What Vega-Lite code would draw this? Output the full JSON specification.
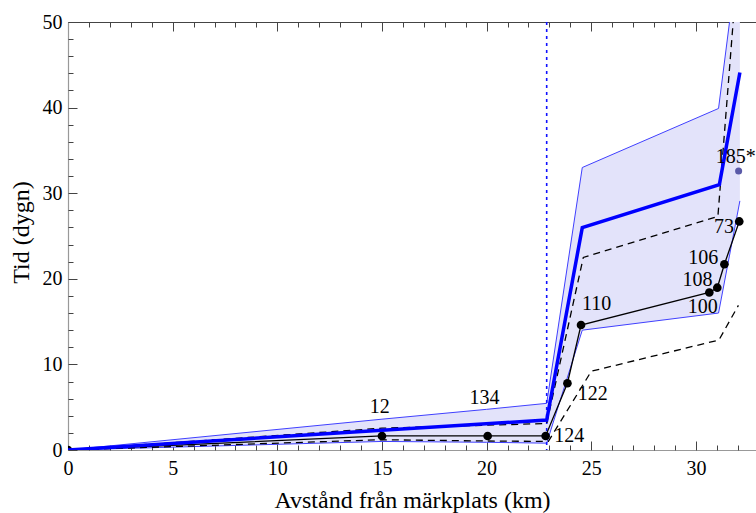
{
  "$schema": "https://vega.github.io/schema/vega-lite/v6.json",
  "width": 688,
  "height": 428,
  "autosize": {"type": "none"},
  "padding": {"left": 68, "top": 22, "right": 0, "bottom": 63},
  "background": "white",
  "config": {"view": {"stroke": null}, "font": "Liberation Serif"},
  "datasets": {
    "band": [
      {"x": 0, "lo": 0, "hi": 0},
      {"x": 15, "lo": 1.0, "hi": 3.6},
      {"x": 20, "lo": 0.9, "hi": 4.75},
      {"x": 22.87, "lo": 0.8, "hi": 5.45},
      {"x": 24.57, "lo": 14.0, "hi": 33.0},
      {"x": 31.08, "lo": 16.0, "hi": 39.9},
      {"x": 32.1, "lo": 29.1, "hi": 59.5}
    ],
    "lines": [
      {"series": "mean", "x": 0, "y": 0},
      {"series": "mean", "x": 22.87, "y": 3.5},
      {"series": "mean", "x": 24.57, "y": 25.97},
      {"series": "mean", "x": 31.12, "y": 31.0},
      {"series": "mean", "x": 32.1, "y": 44.1},
      {"series": "dashHi", "x": 0, "y": 0},
      {"series": "dashHi", "x": 15, "y": 2.55},
      {"series": "dashHi", "x": 20, "y": 2.9},
      {"series": "dashHi", "x": 22.87, "y": 3.1},
      {"series": "dashHi", "x": 24.62, "y": 22.5},
      {"series": "dashHi", "x": 31.05, "y": 27.3},
      {"series": "dashHi", "x": 32.1, "y": 60},
      {"series": "dashLo", "x": 0, "y": 0},
      {"series": "dashLo", "x": 15, "y": 1.2},
      {"series": "dashLo", "x": 20, "y": 1.05},
      {"series": "dashLo", "x": 22.95, "y": 1.0},
      {"series": "dashLo", "x": 25.0, "y": 9.2},
      {"series": "dashLo", "x": 31.1, "y": 12.85},
      {"series": "dashLo", "x": 32.03, "y": 16.9}
    ],
    "obs": [
      {"x": 0, "y": 0},
      {"x": 15, "y": 1.64},
      {"x": 20.05, "y": 1.64},
      {"x": 22.82, "y": 1.64},
      {"x": 23.86, "y": 7.8},
      {"x": 24.51, "y": 14.6},
      {"x": 30.64, "y": 18.4},
      {"x": 31.02, "y": 18.96},
      {"x": 31.36, "y": 21.7},
      {"x": 32.07, "y": 26.7}
    ],
    "extra": [{"x": 32.04, "y": 32.6}],
    "vline": [{"x": 22.87}],
    "labels": [
      {"x": 14.9, "y": 5.06, "t": "12"},
      {"x": 19.9, "y": 6.04, "t": "134"},
      {"x": 23.95, "y": 1.67, "t": "124"},
      {"x": 25.07, "y": 6.54, "t": "122"},
      {"x": 25.26, "y": 17.06, "t": "110"},
      {"x": 30.33, "y": 16.74, "t": "100"},
      {"x": 30.07, "y": 19.86, "t": "108"},
      {"x": 30.35, "y": 22.4, "t": "106"},
      {"x": 31.34, "y": 26.1, "t": "73"},
      {"x": 31.9, "y": 34.2, "t": "185*"}
    ]
  },
  "layer": [
    {
      "data": {"name": "band"},
      "mark": {"type": "area", "fill": "#e3e3fa", "clip": true},
      "encoding": {
        "x": {"field": "x", "type": "quantitative",
          "scale": {"domain": [0, 32.87], "nice": false, "zero": false},
          "axis": {"orient": "bottom", "values": [0, 5, 10, 15, 20, 25, 30], "tickSize": -9, "tickColor": "#444", "tickWidth": 1,
            "domainColor": "#999", "domainWidth": 1.2, "grid": false,
            "labelFont": "Liberation Serif", "labelFontSize": 20, "labelColor": "#000", "labelPadding": 17,
            "labelBound": false, "labelOverlap": false, "labelFlush": false,
            "title": "Avstånd från märkplats (km)", "titleFont": "Liberation Serif", "titleFontSize": 24,
            "titleFontWeight": "normal", "titleColor": "#000", "titleBaseline": "alphabetic", "titleY": 57, "titleX": 344}},
        "y": {"field": "hi", "type": "quantitative",
          "scale": {"domain": [0, 50], "nice": false},
          "axis": {"orient": "left", "values": [0, 10, 20, 30, 40, 50], "tickSize": -9, "tickColor": "#444", "tickWidth": 1,
            "domainColor": "#999", "domainWidth": 1.2, "grid": false,
            "labelFont": "Liberation Serif", "labelFontSize": 20, "labelColor": "#000", "labelPadding": 15,
            "labelBound": false, "labelOverlap": false, "labelFlush": false,
            "title": "Tid (dygn)", "titleFont": "Liberation Serif", "titleFontSize": 24,
            "titleFontWeight": "normal", "titleColor": "#000", "titleBaseline": "alphabetic", "titleX": -40, "titleY": 210, "titleAngle": -90}},
        "y2": {"field": "lo"}
      }
    },
    {
      "data": {"name": "band"},
      "mark": {"type": "line", "stroke": "#4040ff", "strokeWidth": 1, "clip": true},
      "encoding": {
        "x": {"field": "x", "type": "quantitative",
          "axis": {"orient": "bottom", "values": [0,1,2,3,4,5,6,7,8,9,10,11,12,13,14,15,16,17,18,19,20,21,22,23,24,25,26,27,28,29,30,31,32],
            "tickSize": -5, "tickColor": "#444", "labels": false, "domain": false, "grid": false, "title": null}},
        "y": {"field": "lo", "type": "quantitative",
          "axis": {"orient": "left", "values": [0,2,4,6,8,10,12,14,16,18,20,22,24,26,28,30,32,34,36,38,40,42,44,46,48,50],
            "tickSize": -5, "tickColor": "#444", "labels": false, "domain": false, "grid": false, "title": null}}
      }
    },
    {
      "data": {"name": "band"},
      "mark": {"type": "line", "stroke": "#4040ff", "strokeWidth": 1, "clip": true},
      "encoding": {
        "x": {"field": "x", "type": "quantitative",
          "axis": {"orient": "top", "values": [0, 5, 10, 15, 20, 25, 30], "tickSize": -9, "tickColor": "#444",
            "labels": false, "domain": true, "domainColor": "#444", "domainWidth": 1.2, "grid": false, "title": null}},
        "y": {"field": "hi", "type": "quantitative", "axis": null}
      }
    },
    {
      "data": {"name": "vline"},
      "mark": {"type": "rule", "stroke": "#1010ff", "strokeWidth": 1.6, "strokeDash": [3, 4]},
      "encoding": {
        "x": {"field": "x", "type": "quantitative",
          "axis": {"orient": "top", "values": [0,1,2,3,4,5,6,7,8,9,10,11,12,13,14,15,16,17,18,19,20,21,22,23,24,25,26,27,28,29,30,31,32],
            "tickSize": -5, "tickColor": "#444", "labels": false, "domain": false, "grid": false, "title": null}}
      }
    },
    {
      "data": {"name": "lines"},
      "transform": [{"filter": "datum.series !== 'mean'"}],
      "mark": {"type": "line", "stroke": "#000", "strokeWidth": 1.3, "strokeDash": [7, 5], "clip": true},
      "encoding": {
        "x": {"field": "x", "type": "quantitative", "axis": null},
        "y": {"field": "y", "type": "quantitative", "axis": null},
        "detail": {"field": "series"}
      }
    },
    {
      "data": {"name": "obs"},
      "mark": {"type": "line", "stroke": "#000", "strokeWidth": 1.3, "clip": true},
      "encoding": {
        "x": {"field": "x", "type": "quantitative", "axis": null},
        "y": {"field": "y", "type": "quantitative", "axis": null}
      }
    },
    {
      "data": {"name": "obs"},
      "mark": {"type": "point", "filled": true, "fill": "#000", "opacity": 1, "size": 75, "clip": true},
      "encoding": {
        "x": {"field": "x", "type": "quantitative", "axis": null},
        "y": {"field": "y", "type": "quantitative", "axis": null}
      }
    },
    {
      "data": {"name": "lines"},
      "transform": [{"filter": "datum.series === 'mean'"}],
      "mark": {"type": "line", "stroke": "#0000ff", "strokeWidth": 3.5, "clip": true},
      "encoding": {
        "x": {"field": "x", "type": "quantitative", "axis": null},
        "y": {"field": "y", "type": "quantitative", "axis": null}
      }
    },
    {
      "data": {"name": "extra"},
      "mark": {"type": "point", "filled": true, "fill": "#5a5aa8", "opacity": 1, "size": 50},
      "encoding": {
        "x": {"field": "x", "type": "quantitative", "axis": null},
        "y": {"field": "y", "type": "quantitative", "axis": null}
      }
    },
    {
      "data": {"name": "labels"},
      "mark": {"type": "text", "font": "Liberation Serif", "fontSize": 20, "align": "center", "baseline": "middle", "fill": "#000"},
      "encoding": {
        "x": {"field": "x", "type": "quantitative", "axis": null},
        "y": {"field": "y", "type": "quantitative", "axis": null},
        "text": {"field": "t"}
      }
    }
  ],
  "resolve": {"axis": {"x": "independent", "y": "independent"}}
}
